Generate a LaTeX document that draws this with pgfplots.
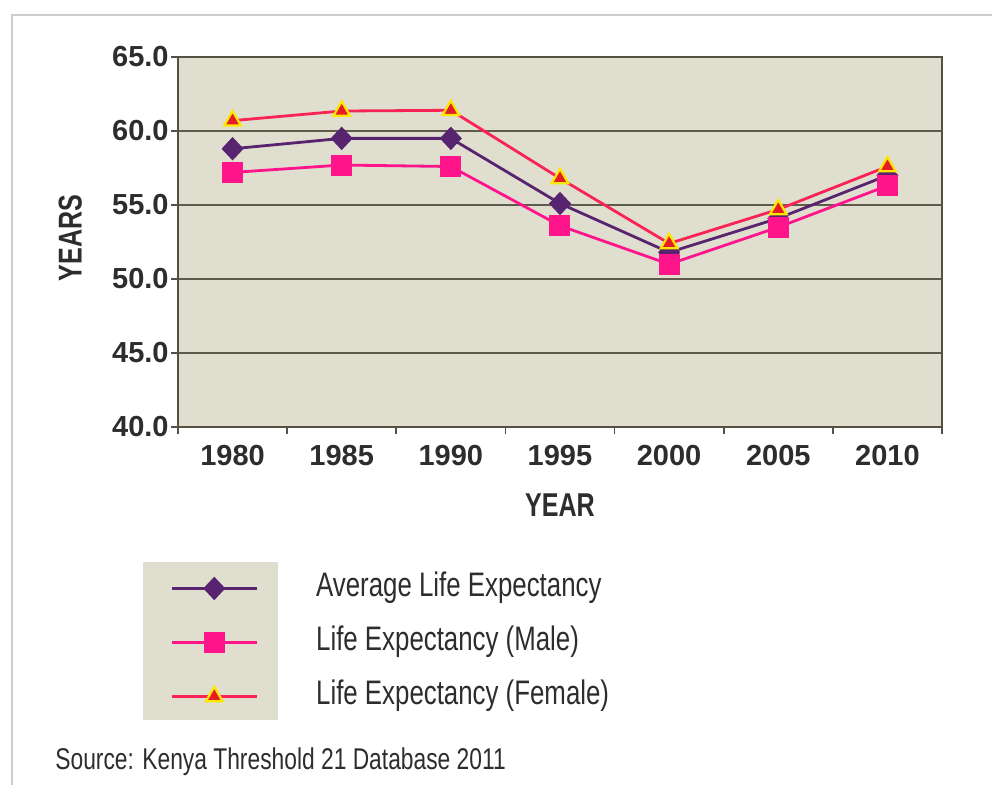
\documentclass[border=0pt]{standalone}
\usepackage{fontspec}
\setmainfont{Liberation Sans}
\newfontfamily\cond[FakeStretch=0.76]{Liberation Sans}
\usepackage{pgfplots}
\pgfplotsset{compat=1.18}
\definecolor{bgc}{RGB}{224,222,206}
\definecolor{axc}{RGB}{85,80,65}
\definecolor{gridc}{RGB}{95,90,75}
\definecolor{txtc}{RGB}{45,45,45}
\definecolor{framec}{RGB}{205,205,205}
\definecolor{avgc}{RGB}{88,36,112}
\definecolor{malec}{RGB}{255,20,140}
\definecolor{femc}{RGB}{250,35,85}
\definecolor{trifill}{RGB}{228,28,40}
\definecolor{triedge}{RGB}{255,232,0}

\begin{document}
\begin{tikzpicture}
\path[use as bounding box] (0,0) rectangle (496pt,-392.5pt);
\draw[framec,line width=1.2pt] (6pt,-392.5pt) -- (6pt,-7.5pt) -- (496pt,-7.5pt);
% beige panel behind the legend images
\fill[bgc] (71.5pt,-281pt) rectangle (139pt,-360pt);
\begin{axis}[at={(89pt,-213.5pt)},anchor=south west,scale only axis,
  width=382pt,height=185pt,
  xmin=-0.5,xmax=6.5,ymin=40,ymax=65,
  xtick={-0.5,0.5,...,6.5},xticklabels={},
  extra x ticks={0,1,2,3,4,5,6},
  extra x tick labels={1980,1985,1990,1995,2000,2005,2010},
  extra x tick style={major tick length=0pt},
  ytick={40,45,...,65},
  tick align=outside,xtick pos=bottom,ytick pos=left,
  major tick length=3.5pt,
  ymajorgrids,major grid style={gridc,line width=0.9pt},
  axis background/.style={fill=bgc},
  axis line style={axc,line width=1.2pt},
  tick style={axc,line width=0.8pt},
  ticklabel style={font=\bfseries\fontsize{14.5}{16}\selectfont,text=txtc},
  x tick label style={yshift=-5.5pt},
  yticklabel style={inner sep=1pt,/pgf/number format/.cd,fixed,fixed zerofill,precision=1,assume math mode=true},
  xlabel={YEAR},ylabel={YEARS},
  label style={font=\cond\bfseries\fontsize{16.5}{18}\selectfont,text=txtc},
  xlabel style={at={(axis description cs:0.5,-0.211)},anchor=center},
  ylabel style={at={(axis description cs:-0.141,0.511)},anchor=center},
  legend cell align=left,
  legend image code/.code={\draw[mark repeat=2,mark phase=2,#1] plot coordinates {(0pt,0pt) (21.25pt,0pt) (42.5pt,0pt)};},
  legend style={at={(rel axis cs:-0.0105,-0.392)},anchor=north west,draw=none,fill=none,
    inner sep=0pt,row sep=11pt,font=\cond\fontsize{17}{19}\selectfont,text=txtc,
    nodes={inner sep=0pt,text height=12pt,text depth=4pt},
    /tikz/every odd column/.append style={column sep=29pt}},
  every axis plot/.append style={line width=1.4pt}]
\addplot[avgc,mark=diamond*,mark size=5.5pt,mark options={xscale=1.25,fill=avgc,draw=avgc,line width=0.5pt}]
  coordinates {(0,58.8) (1,59.5) (2,59.5) (3,55.1) (4,51.8) (5,54.1) (6,57.0)};
\addplot[malec,mark=square*,mark size=5pt,mark options={fill=malec,draw=malec,line width=0.5pt}]
  coordinates {(0,57.2) (1,57.7) (2,57.6) (3,53.6) (4,51.0) (5,53.5) (6,56.3)};
\addplot[femc,mark=triangle*,mark size=4.8pt,mark options={fill=trifill,draw=triedge,line width=1.1pt}]
  coordinates {(0,60.7) (1,61.35) (2,61.4) (3,56.8) (4,52.4) (5,54.7) (6,57.6)};
\legend{Average Life Expectancy,Life Expectancy (Male),Life Expectancy (Female)}
\end{axis}
\node[anchor=base west,inner sep=0pt,font=\cond\fontsize{15}{17}\selectfont,text=txtc] at (27.5pt,-385pt) {Source: Kenya Threshold 21 Database 2011};
\end{tikzpicture}
\end{document}
